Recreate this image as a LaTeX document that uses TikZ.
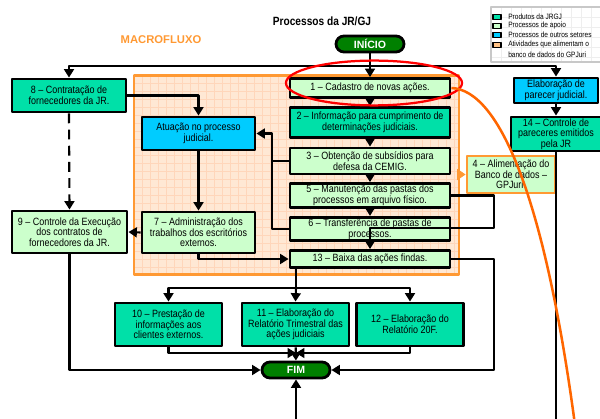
\documentclass[tikz,border=0pt]{standalone}
\usepackage{fontspec}
\setmainfont{Liberation Sans}
\newfontfamily\estreita[FakeStretch=0.85]{Liberation Sans}
\usepackage{tikz}
\usetikzlibrary{arrows.meta}

\definecolor{produto}{RGB}{0,224,168}
\definecolor{apoio}{RGB}{204,255,204}
\definecolor{setor}{RGB}{0,204,255}
\definecolor{terminal}{RGB}{0,128,0}
\definecolor{laranja}{RGB}{255,153,51}
\definecolor{pessego}{RGB}{255,232,212}
\definecolor{gradeclr}{RGB}{255,214,186}
\definecolor{curvaclr}{RGB}{255,102,0}
\definecolor{legborda}{RGB}{200,200,200}
\definecolor{leggrade}{RGB}{238,238,238}

\tikzset{
	caixa/.style={draw=black,line width=2pt,align=center,inner sep=1pt,
		font=\estreita\fontsize{7.5}{7.6}\selectfont},
	produto/.style={caixa,fill=produto},
	apoio/.style={caixa,fill=apoio},
	setor/.style={caixa,fill=setor},
	terminal/.style={draw=black,line width=2pt,fill=terminal,rounded corners=0.2cm,
		minimum width=1.7cm,minimum height=0.4cm,inner sep=0pt,text=white,
		font=\bfseries\fontsize{7.5}{8}\selectfont},
	grade/.style={draw=gradeclr,line width=0.35pt},
	regiao/.style={draw=laranja,line width=2pt,fill=pessego,inner sep=0pt,
		minimum width=8.125cm,minimum height=4.975cm,
		path picture={
			\foreach \k in {1,...,40}
				\draw[grade] ([xshift=\k*0.2cm]path picture bounding box.north west) -- ([xshift=\k*0.2cm]path picture bounding box.south west);
			\foreach \k in {1,...,24}
				\draw[grade] ([yshift=-\k*0.2cm]path picture bounding box.north west) -- ([yshift=-\k*0.2cm]path picture bounding box.north east);
		}},
	seta/.style={->,line width=1.5pt},
	linha/.style={line width=1.5pt},
	tracejado/.style={dash pattern=on 7pt off 4.5pt},
	amostra/.style={draw=black,line width=1.2pt,minimum width=0.2cm,minimum height=0.12cm,inner sep=0pt},
	legtexto/.style={anchor=west,inner sep=0pt,font=\estreita\fontsize{5.5}{6}\selectfont}
}

\begin{document}
\begin{tikzpicture}[line join=round,>={Triangle[length=6pt,width=7pt]},x=0.025cm,y=-0.025cm]
	\useasboundingbox (0,0) rectangle (600,419);
	\node[font=\estreita\bfseries\fontsize{8.5}{9}\selectfont] (titulo) at (322,21) {Processos da JR/GJ};
	\node[font=\bfseries\fontsize{8}{9}\selectfont,text=laranja] (macro) at (161,40) {MACROFLUXO};
	% legenda
	\draw[draw=legborda,line width=1pt,fill=white] (491,7) rectangle (603,62);
	\foreach \gx in {501,511,...,601}
		\draw[leggrade,line width=0.3pt] (\gx,8) -- (\gx,61);
	\foreach \gy in {17,27,...,57}
		\draw[leggrade,line width=0.3pt] (492,\gy) -- (602,\gy);
	\node[amostra,fill=produto] (lg1) at (497,17) {};
	\node[amostra,fill=apoio] (lg2) at (497,26) {};
	\node[amostra,fill=setor] (lg3) at (497,35) {};
	\node[amostra,fill=laranja!60] (lg4) at (497,45) {};
	\node[legtexto] at (508,17) {Produtos da JRGJ};
	\node[legtexto] at (508,26) {Processos de apoio};
	\node[legtexto] at (508,35) {Processos de outros setores};
	\node[legtexto] at (508,45) {Atividades que alimentam o};
	\node[legtexto] at (508,55) {banco de dados do GPJuri};
	% area laranja
	\node[regiao] (area) at (296.5,175) {};
	\node[terminal] (inicio) at (370,44) {INÍCIO};
	\node[apoio,minimum width=4cm,minimum height=0.475cm] (b1) at (370,88) {1 – Cadastro de novas ações.};
	\node[produto,minimum width=4cm,minimum height=0.75cm] (b2) at (370,122.5) {2 – Informação para cumprimento de\\determinações judiciais.};
	\node[apoio,minimum width=4cm,minimum height=0.65cm] (b3) at (370,161) {3 – Obtenção de subsídios para\\defesa da CEMIG.};
	\node[apoio,minimum width=4cm,minimum height=0.6cm] (b5) at (370,195.5) {5 – Manutenção das pastas dos\\processos em arquivo físico.};
	\node[apoio,minimum width=4cm,minimum height=0.575cm] (b6) at (370,229) {6 – Transferência de pastas de\\processos.};
	\node[apoio,minimum width=4cm,minimum height=0.425cm] (b13) at (370,259) {13 – Baixa das ações findas.};
	\node[setor,minimum width=2.825cm,minimum height=0.825cm] (atuacao) at (198.5,133.5) {Atuação no processo\\judicial.};
	\node[apoio,minimum width=2.825cm,minimum height=1.025cm] (b7) at (198.5,232.5) {7 – Administração dos\\trabalhos dos escritórios\\externos.};
	\node[produto,minimum width=2.85cm,minimum height=0.825cm] (b8) at (69,95.5) {8 – Contratação de\\fornecedores da JR.};
	\node[apoio,minimum width=2.875cm,minimum height=1.05cm] (b9) at (69.5,232) {9 – Controle da Execução\\dos contratos de\\fornecedores da JR.};
	\node[apoio,draw=laranja,minimum width=2.2cm,minimum height=0.925cm] (b4) at (511,174.5) {4 – Alimentação do\\Banco de dados –\\GPJuri.};
	\node[produto,minimum width=2.675cm,minimum height=1.075cm] (b10) at (168.5,324.5) {10 – Prestação de\\informações aos\\clientes externos.};
	\node[produto,minimum width=2.675cm,minimum height=1.075cm] (b11) at (295.5,324.5) {11 – Elaboração do\\Relatório Trimestral das\\ações judiciais};
	\node[produto,minimum width=2.675cm,minimum height=1.075cm] (b12) at (410,324.5) {12 – Elaboração do\\Relatório 20F.};
	\node[terminal] (fim) at (296,370) {FIM};
	\node[setor,minimum width=2.1cm,minimum height=0.625cm] (parecer) at (556,90.5) {Elaboração de\\parecer judicial.};
	\node[produto,minimum width=2.25cm,minimum height=0.85cm] (b14) at (556,134) {14 – Controle de\\pareceres emitidos\\pela JR};
	% ligacoes
	\coordinate (ramo) at (370,66);
	\coordinate (juncao) at (272,229);
	\coordinate (bus) at (296,288);
	\coordinate (junta) at (296,353);
	\coordinate (baixo) at (296,425);
	\coordinate (fundo) at (556,425);
	\draw[seta] (inicio) -- (b1);
	\draw[seta] (ramo) -| (b8.north);
	\draw[seta] (ramo) -| (parecer.north);
	\draw[seta] (b1) -- (b2);
	\draw[seta] (b2) -- (b3);
	\draw[seta] (b3) -- (b5);
	\draw[seta] (b5) -- (b6);
	\draw[seta] (b8.east) -| (atuacao.north);
	\draw[seta,tracejado] (b8.south) -- (b9.north);
	\draw[seta] (atuacao) -- (b7);
	\draw[seta] (b7.west) -- (b9.east);
	\draw[seta] (b7.south) |- (b13.west);
	\draw[seta] (b6.west) -- (juncao) |- (atuacao.east);
	\draw[linha] (b3.west) -- (b3.west -| juncao);
	\draw[seta] (b5.east) -- ++(43,0) -- ++(0,32.5) -| (b13.north);
	\draw[seta] (b13.east) -- ++(43,0) |- (fim.east);
	\draw[linha] (b13.south -| bus) -- (bus);
	\draw[seta] (bus) -- (b11.north);
	\draw[seta] (bus) -| (b10.north);
	\draw[seta] (bus) -| (b12.north);
	\draw[seta] (b10.south) |- (junta);
	\draw[seta] (b12.south) |- (junta);
	\draw[seta] (b11) -- (fim);
	\draw[seta] (b9.south) |- (fim.west);
	\draw[seta] (baixo) -- (fim.south);
	\draw[seta] (parecer) -- (b14);
	\draw[linha] (b14.south) -- (fundo);
	\draw[laranja,line width=0.5pt,-{Triangle[length=6pt,width=8pt]}] (area.east |- b4.west) -- (b4.west);
	% destaques
	\draw[red,line width=1.6pt] (374,83) ellipse [x radius=2.2cm,y radius=0.56cm];
	\draw[curvaclr,line width=1.8pt] (b1.east) .. controls (500,90) and (545,200) .. (575,425);
\end{tikzpicture}
\end{document}
